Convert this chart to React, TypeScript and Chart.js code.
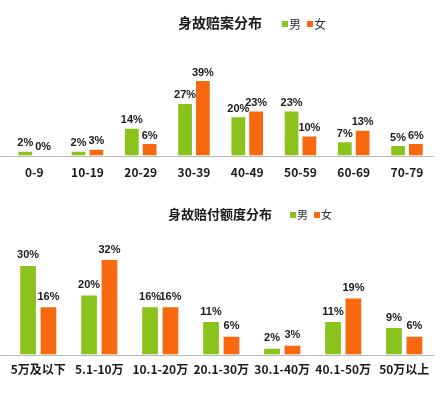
import React, { useEffect, useRef } from "react";
import { Chart, registerables } from "chart.js";

Chart.register(...registerables);

const ageCategories = ["0-9", "10-19", "20-29", "30-39", "40-49", "50-59", "60-69", "70-79"];
const ageMale = [2, 2, 14, 27, 20, 23, 7, 5];
const ageFemale = [0, 3, 6, 39, 23, 10, 13, 6];

const amountCategories = ["5万及以下", "5.1-10万", "10.1-20万", "20.1-30万", "30.1-40万", "40.1-50万", "50万以上"];
const amountMale = [30, 20, 16, 11, 2, 11, 9];
const amountFemale = [16, 32, 16, 6, 3, 19, 6];

const seriesNames = ["男", "女"];
const GREEN = "#8cc21c";
const ORANGE = "#f7680f";
const FONT = "'Noto Sans CJK SC', 'DejaVu Sans', sans-serif";
const NUMFONT = "'Liberation Sans', Arial, sans-serif";

type Cfg = {
  title: string;
  titleSize: number;
  titleY: number;
  legendX: number;
  legendSize: number;
  labelOffset: number;
};

function makeOverlay(cfg: Cfg) {
  return {
    id: "overlay",
    afterDatasetsDraw(chart: any) {
      const ctx = chart.ctx;
      ctx.save();
      // baseline
      const y0 = chart.scales.y.getPixelForValue(0);
      ctx.strokeStyle = "#b8b8b8";
      ctx.lineWidth = 1;
      ctx.beginPath();
      ctx.moveTo(0, Math.round(y0) + 0.5);
      ctx.lineTo(chart.chartArea.right, Math.round(y0) + 0.5);
      ctx.stroke();
      // data labels
      ctx.fillStyle = "#1a1a1a";
      ctx.font = "bold 11px " + NUMFONT;
      ctx.textAlign = "center";
      ctx.textBaseline = "bottom";
      chart.data.datasets.forEach((ds: any, i: number) => {
        const meta = chart.getDatasetMeta(i);
        meta.data.forEach((bar: any, j: number) => {
          ctx.fillText(ds.data[j] + "%", bar.x, bar.y - cfg.labelOffset);
        });
      });
      // title
      ctx.font = "bold " + cfg.titleSize + "px " + FONT;
      ctx.textBaseline = "middle";
      ctx.fillStyle = "#1a1a1a";
      ctx.fillText(cfg.title, 220, cfg.titleY);
      // legend
      ctx.font = cfg.legendSize + "px " + FONT;
      ctx.textAlign = "left";
      let x = cfg.legendX;
      chart.data.datasets.forEach((ds: any) => {
        ctx.fillStyle = ds.backgroundColor;
        ctx.fillRect(x, cfg.titleY - 2, 6, 6);
        ctx.fillStyle = "#333";
        ctx.fillText(ds.label, x + 7, cfg.titleY + 1);
        x += 7 + ctx.measureText(ds.label).width + 6;
      });
      ctx.restore();
    },
  };
}

function BarChart(props: {
  categories: string[];
  male: number[];
  female: number[];
  ymax: number;
  padding: { left: number; right: number; top: number; bottom: number };
  tickPadding: number;
  cfg: Cfg;
  height: number;
  top: number;
}) {
  const ref = useRef<HTMLCanvasElement>(null);
  useEffect(() => {
    if (!ref.current) return;
    const chart = new Chart(ref.current, {
      type: "bar",
      data: {
        labels: props.categories,
        datasets: [
          { label: seriesNames[0], data: props.male, backgroundColor: GREEN, barPercentage: 0.77, categoryPercentage: 0.67 },
          { label: seriesNames[1], data: props.female, backgroundColor: ORANGE, barPercentage: 0.77, categoryPercentage: 0.67 },
        ],
      },
      options: {
        animation: false,
        responsive: false,
        maintainAspectRatio: false,
        layout: { padding: props.padding },
        plugins: { legend: { display: false }, tooltip: { enabled: false }, title: { display: false } },
        scales: {
          x: {
            grid: { display: false, drawTicks: false },
            border: { display: false },
            ticks: {
              padding: props.tickPadding,
              color: "#1a1a1a",
              autoSkip: false,
              maxRotation: 0,
              font: { family: FONT, size: 12, weight: "bold" },
            },
          },
          y: { display: false, min: 0, max: props.ymax },
        },
      },
      plugins: [makeOverlay(props.cfg)],
    } as any);
    return () => chart.destroy();
  }, []);
  return (
    <canvas
      ref={ref}
      width={446}
      height={props.height}
      style={{ position: "absolute", left: 0, top: props.top, width: 446, height: props.height }}
    />
  );
}

export default function App() {
  return (
    <div style={{ position: "fixed", left: 0, top: 0, width: 446, height: 397, background: "#fff", overflow: "hidden" }}>
      <BarChart
        categories={ageCategories}
        male={ageMale}
        female={ageFemale}
        ymax={45}
        padding={{ left: 7.6, right: 12.4, top: 69.5, bottom: 10 }}
        tickPadding={10}
        cfg={{ title: "身故赔案分布", titleSize: 14, titleY: 23, legendX: 282, legendSize: 12, labelOffset: 3 }}
        height={200}
        top={0}
      />
      <BarChart
        categories={amountCategories}
        male={amountMale}
        female={amountFemale}
        ymax={36}
        padding={{ left: 7.8, right: 11.3, top: 48.2, bottom: 12 }}
        tickPadding={8}
        cfg={{ title: "身故赔付额度分布", titleSize: 13, titleY: 14, legendX: 290, legendSize: 11, labelOffset: 5 }}
        height={197}
        top={200}
      />
    </div>
  );
}
